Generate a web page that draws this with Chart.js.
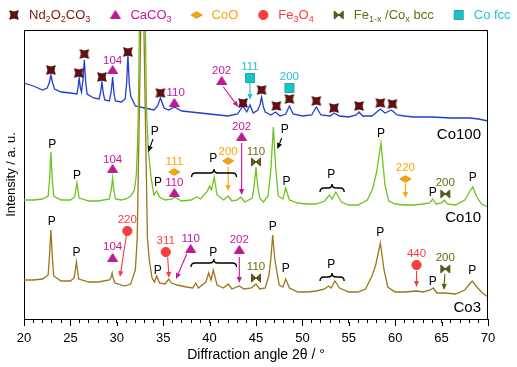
<!DOCTYPE html>
<html><head><meta charset="utf-8">
<script src="https://cdn.jsdelivr.net/npm/chart.js@4.4.1/dist/chart.umd.min.js"></script>
<style>html,body{margin:0;padding:0;background:#fff}</style>
</head><body>
<canvas id="c" width="517" height="367"></canvas>
<script>
// ---- data (2θ in degrees, intensity in arbitrary units as stacked in the figure) ----
const co100 = [[20,236],[21,233],[22,229],[22.5,231],[22.72,236],[22.9,244],[23.08,236],[23.3,230],[24,227],[25,226],[25.7,225],[25.83,232],[25.95,241],[26.08,231],[26.2,227],[26.36,240],[26.5,259],[26.64,238],[26.8,225],[27.5,221],[28.1,220],[28.28,228],[28.4,237],[28.54,226],[28.7,219],[29.2,218],[29.41,228],[29.55,242],[29.69,226],[29.85,218],[30.5,217],[30.9,220],[31.06,236],[31.2,264],[31.34,235],[31.5,223],[32,213],[33,211],[34,209],[34.4,213],[34.7,221],[35.1,211],[35.6,209],[36.2,212],[37,208],[38,207],[39,206],[40,205],[41,204],[42,203],[43,205],[43.6,213],[44,207],[44.35,214],[44.7,206],[45.2,209],[45.45,215],[45.6,222],[45.8,212],[46,207],[46.6,204],[47.1,207],[47.6,203],[48.2,205],[48.6,213],[49,205],[50,203],[51,204],[51.5,212],[52,204],[53,203],[53.4,206],[54,203],[55,202],[55.8,204],[56.1,207],[56.5,203],[57.5,203],[58.4,210],[58.9,206],[59.6,209],[60.2,204],[61,203],[62,202],[64,202],[66,201],[68,201],[69,200],[70,198]];
const co10 = [[20,119],[21,119],[22,120],[22.6,123],[22.76,140],[22.9,167],[23.04,140],[23.2,123],[24,119],[25,119],[25.45,122],[25.58,129],[25.7,136],[25.82,128],[25.95,121],[27,118],[28,118],[29.2,120],[29.42,130],[29.55,141],[29.68,129],[29.85,120],[30.5,119],[31,120],[31.5,123],[31.9,129],[32.1,144],[32.25,179],[32.32,209],[32.43,289],[32.76,515],[33.08,289],[33.2,209],[33.4,168],[33.7,141],[34,124],[34.3,128],[34.6,122],[35.2,119],[36,120],[36.2,122],[37,118],[38,119],[38.6,122],[39,120],[39.7,127],[40,133],[40.2,129],[40.5,142],[40.8,124],[41.5,119],[42,123],[42.4,118],[43,119],[43.35,122],[43.8,117],[44.6,121],[44.83,135],[45,152],[45.17,134],[45.4,121],[45.8,117],[46.3,123],[46.6,149],[46.87,192],[47.1,154],[47.4,123],[47.9,120],[48.2,131],[48.6,119],[49.5,116],[50.5,115],[51.5,115],[52.4,118],[52.9,124],[53.2,120],[53.6,127],[54.2,117],[55,114],[56,114],[57,119],[57.6,131],[58,147],[58.47,176],[58.9,134],[59.3,118],[60,115],[61,114],[62,114],[63,115],[63.7,116],[64.05,120],[64.4,115],[65,116],[65.3,119],[65.6,115],[66.5,114],[67.5,119],[68,127],[68.35,132],[68.8,122],[69.3,115],[70,112]];
const co3 = [[20,39],[21,39],[22,40],[22.6,44],[22.76,65],[22.9,89],[23.04,64],[23.2,43],[24,38],[25,38],[25.4,41],[25.53,49],[25.65,57],[25.77,48],[25.9,40],[27,37],[28,37],[29.2,39],[29.4,42],[29.5,46],[29.6,41],[29.8,36],[30.2,35],[30.8,33],[31.5,35],[32,49],[32.2,81],[32.75,385],[33.3,81],[33.5,59],[33.8,41],[34.05,37],[34.3,43],[34.6,36],[35.2,35],[35.6,40],[35.9,36],[36.5,34],[37.5,32],[38.2,31],[38.5,36],[38.8,31],[39.6,37],[39.9,46],[40.15,39],[40.4,49],[40.8,34],[41.5,31],[42,35],[42.4,30],[43.2,33],[43.7,30],[44.5,31],[45,35],[45.4,30],[46,31],[46.4,44],[46.6,60],[46.8,84],[47.0,62],[47.2,50],[47.5,34],[47.9,32],[48.2,40],[48.6,31],[49.5,27],[50.5,27],[51.5,28],[52.4,30],[52.8,33],[53.1,31],[53.5,38],[54,31],[55,27],[56,27],[56.8,30],[57.5,43],[57.9,54],[58.4,76],[58.8,49],[59.2,32],[60,27],[61,27],[62.3,28],[63,27],[63.8,29],[64.1,31],[64.5,26],[65.3,26],[66.5,25],[67.5,29],[68,35],[68.3,38],[68.8,32],[69.4,26],[70,22]];

// phase markers [2θ, intensity]
const ndMarks = [[22.9,249],[25.9,246],[26.5,265],[28.4,242],[31.2,267],[34.7,226],[43.6,216],[45.6,229],[47.2,213],[48.6,220],[51.5,218],[53.4,211],[56.1,213],[58.4,216],[59.7,215]];
const cacoMarks = [[29.55,249],[36.2,216],[41.3,238],[29.55,150],[36.2,126],[43.45,182],[29.55,61],[37.96,70],[43.2,69]];
const cooMarks = [[36.2,147],[42.0,158],[61.1,140]];
const fe3o4Marks = [[31.13,88],[35.27,67],[62.3,54]];
const bccMarks = [[45.0,157],[65.4,125],[45.0,41],[65.4,50]];
const cofccMarks = [[44.35,241],[48.6,231]];

// peak labels [text, 2θ, intensity, phase]
const peakLabels = [
 ["104",29.55,258,"caco"],["110",36.35,226,"caco"],["202",41.3,248,"caco"],["111",44.35,252,"cofcc"],["200",48.6,242,"cofcc"],
 ["P",23.05,174,"p"],["P",25.7,143,"p"],["104",29.55,159,"caco"],["P",34.1,187,"p"],["P",34.45,136,"p"],["111",36.2,157,"coo"],["110",36.2,136,"caco"],["P",40.4,160,"p"],["200",42.0,167,"coo"],["202",43.45,192,"caco"],["110",45.0,167,"bcc"],["P",48.1,189,"p"],["P",48.3,137,"p"],["P",53.1,144,"p"],["P",58.47,185,"p"],["220",61.1,151,"coo"],["P",64.05,126,"p"],["200",65.4,136,"bcc"],["P",68.35,141,"p"],
 ["P",23.0,97,"p"],["P",25.65,66,"p"],["104",29.55,72,"caco"],["220",31.13,99,"fe3o4"],["P",34.4,48,"p"],["311",35.27,78,"fe3o4"],["110",37.96,80,"caco"],["P",40.4,66,"p"],["202",43.2,79,"caco"],["110",45.0,52,"bcc"],["P",46.8,92,"p"],["P",48.2,50,"p"],["P",53.1,54,"p"],["P",58.4,86,"p"],["440",62.3,65,"fe3o4"],["P",64.05,37,"p"],["200",65.4,61,"bcc"],["P",68.3,48,"p"]
];
// arrows [from 2θ, from I, to 2θ, to I, phase]
const arrows = [
 [41.48,232,43.09,212,"caco"],[44.35,236,44.35,219,"cofcc"],
 [33.9,180,33.4,167,"p"],[47.77,181,47.3,170,"p"],[42.0,152,42.0,128,"coo"],[43.45,176,43.45,124,"caco"],[61.1,136,61.1,121,"coo"],
 [31.07,86,30.34,42,"fe3o4"],[35.48,62,35.63,41,"fe3o4"],[37.53,65,36.38,40,"caco"],[43.2,62,43.2,36,"caco"],[62.3,48,62.3,32,"fe3o4"],[65.35,45,65.25,29,"bcc"]
];
// braces [from 2θ, to 2θ, intensity]
const braces = [[38.06,42.9,146],[51.9,54.5,131],[38.0,42.9,56],[51.9,54.5,42]];
// sample names [name, intensity]
const sampleNames = [["Co100",184],["Co10",101],["Co3",11]];
// legend [name with {subscripts}, phase]
const legendItems = [["Nd{2}O{2}CO{3}","nd"],["CaCO{3}","caco"],["CoO","coo"],["Fe{3}O{4}","fe3o4"],["Fe{1-x} /Co{x} bcc","bcc"],["Co fcc","cofcc"]];

// ---- styles ----
const FONT = "'Liberation Sans', Arial, sans-serif";
const markColor = {nd:'#6b0d0d', caco:'#c4159c', coo:'#ffa200', fe3o4:'#ff3c3c', bcc:'#5c5c0c', cofcc:'#18c4c8', p:'#000'};
const textColor = {nd:'#7b1414', caco:'#c8179f', coo:'#ffa500', fe3o4:'#ff3c3c', bcc:'#6a6a14', cofcc:'#1cc6d2', p:'#000'};

function makeMarker(kind){
  const cv = document.createElement('canvas'); cv.width = 14; cv.height = 14;
  const g = cv.getContext('2d'); const c = 7;
  g.lineWidth = 0.8; g.beginPath();
  if (kind==='nd'){ const r=4.3, n=3.0;
    g.moveTo(c-r,c-r); g.lineTo(c,c-n); g.lineTo(c+r,c-r); g.lineTo(c+n,c); g.lineTo(c+r,c+r); g.lineTo(c,c+n); g.lineTo(c-r,c+r); g.lineTo(c-n,c); g.closePath();
    g.fillStyle=markColor.nd; g.strokeStyle='#3a0000';
  } else if (kind==='caco'){ g.moveTo(c,c-4.5); g.lineTo(c+5,c+3.5); g.lineTo(c-5,c+3.5); g.closePath(); g.fillStyle=markColor.caco; g.strokeStyle='#a0107f'; }
  else if (kind==='coo'){ g.moveTo(c-5.5,c); g.lineTo(c,c-3.3); g.lineTo(c+5.5,c); g.lineTo(c,c+3.3); g.closePath(); g.fillStyle=markColor.coo; g.strokeStyle='#d08400'; }
  else if (kind==='fe3o4'){ g.arc(c,c,4.6,0,Math.PI*2); g.fillStyle=markColor.fe3o4; g.strokeStyle='#d22a2a'; }
  else if (kind==='bcc'){ g.moveTo(c-4.5,c-4); g.lineTo(c,c); g.lineTo(c-4.5,c+4); g.closePath(); g.moveTo(c+4.5,c-4); g.lineTo(c,c); g.lineTo(c+4.5,c+4); g.closePath(); g.fillStyle=markColor.bcc; g.strokeStyle='#3e3e06'; }
  else if (kind==='cofcc'){ g.rect(c-4.5,c-4.5,9,9); g.fillStyle=markColor.cofcc; g.strokeStyle='#0c9096'; }
  g.fill(); g.stroke();
  return cv;
}
const markers = {}; ['nd','caco','coo','fe3o4','bcc','cofcc'].forEach(k => markers[k] = makeMarker(k));

const toXY = arr => arr.map(p => ({x:p[0], y:p[1]}));
function traceDs(label, arr, color, order){
  return {label, data: toXY(arr), showLine:true, borderColor:color, borderWidth:1.3, pointRadius:0, tension:0, order};
}
function markDs(label, arr, key){
  return {label, data: toXY(arr), showLine:false, pointStyle: markers[key], pointRadius:5, order:0};
}

function drawRich(ctx, str, x, y, size, color){
  const parts = str.split(/(\{[^}]*\})/).filter(s => s.length);
  ctx.fillStyle = color; ctx.textBaseline = 'middle'; ctx.textAlign = 'left';
  for (const p of parts){
    if (p[0]==='{'){ const t=p.slice(1,-1); ctx.font = (size*0.7)+'px '+FONT; ctx.fillText(t, x, y+4); x += ctx.measureText(t).width; }
    else { ctx.font = size+'px '+FONT; ctx.fillText(p, x, y); x += ctx.measureText(p).width; }
  }
  return x;
}

const annot = {
  id:'annot',
  afterDatasetsDraw(chart){
    const {ctx, chartArea:a, scales:{x, y}} = chart;
    ctx.save();
    // frame top & right
    ctx.strokeStyle='#000'; ctx.lineWidth=1;
    ctx.beginPath(); ctx.moveTo(a.left, a.top+0.5); ctx.lineTo(a.right-0.5, a.top+0.5); ctx.lineTo(a.right-0.5, a.bottom); ctx.stroke();
    // longer major ticks
    ctx.beginPath();
    for (let v = 20; v <= 70; v += 5){ const px = Math.round(x.getPixelForValue(v))+0.5; ctx.moveTo(px, a.bottom+3); ctx.lineTo(px, a.bottom+7); }
    ctx.stroke();
    // arrows
    for (const [x1,y1,x2,y2,k] of arrows){
      const X1=x.getPixelForValue(x1), Y1=y.getPixelForValue(y1), X2=x.getPixelForValue(x2), Y2=y.getPixelForValue(y2);
      const ang = Math.atan2(Y2-Y1, X2-X1), L=6, W=2.6;
      const bx = X2 - L*Math.cos(ang), by = Y2 - L*Math.sin(ang);
      ctx.strokeStyle = markColor[k]; ctx.fillStyle = markColor[k]; ctx.lineWidth = 1.1;
      ctx.beginPath(); ctx.moveTo(X1,Y1); ctx.lineTo(bx,by); ctx.stroke();
      ctx.beginPath(); ctx.moveTo(X2,Y2); ctx.lineTo(bx - W*Math.sin(ang), by + W*Math.cos(ang)); ctx.lineTo(bx + W*Math.sin(ang), by - W*Math.cos(ang)); ctx.closePath(); ctx.fill();
    }
    // braces
    ctx.strokeStyle='#000'; ctx.lineWidth=1.4;
    for (const [x1,x2,yv] of braces){
      const L=x.getPixelForValue(x1), R=x.getPixelForValue(x2), Y=y.getPixelForValue(yv), M=(L+R)/2, h=4;
      ctx.beginPath();
      ctx.moveTo(L, Y+h); ctx.quadraticCurveTo(L, Y, L+h, Y);
      ctx.lineTo(M-h, Y); ctx.quadraticCurveTo(M, Y, M, Y-h);
      ctx.quadraticCurveTo(M, Y, M+h, Y);
      ctx.lineTo(R-h, Y); ctx.quadraticCurveTo(R, Y, R, Y+h);
      ctx.stroke();
    }
    // peak labels
    ctx.textAlign='center'; ctx.textBaseline='middle';
    for (const [t,xv,yv,k] of peakLabels){
      ctx.font = (t==='P' ? '12px ' : '11.5px ') + FONT;
      ctx.fillStyle = textColor[k];
      ctx.fillText(t, x.getPixelForValue(xv), y.getPixelForValue(yv));
    }
    // sample names
    ctx.font = '15px '+FONT; ctx.fillStyle='#000'; ctx.textAlign='right';
    for (const [n,yv] of sampleNames){ ctx.fillText(n, a.right-7, y.getPixelForValue(yv)); }
    ctx.restore();
  },
  afterDraw(chart){
    const ctx = chart.ctx; ctx.save();
    let cx = 14; const cy = 15;
    for (const [name,k] of legendItems){
      const m = markers[k]; ctx.drawImage(m, cx - m.width/2, cy - m.height/2);
      const end = drawRich(ctx, name, cx + 15, cy, 13, textColor[k]);
      cx = end + 25;
    }
    ctx.restore();
  }
};

Chart.defaults.font.family = FONT;
new Chart(document.getElementById('c'), {
  type:'scatter',
  data:{ datasets:[
    markDs('Nd2O2CO3', ndMarks, 'nd'),
    markDs('CaCO3', cacoMarks, 'caco'),
    markDs('CoO', cooMarks, 'coo'),
    markDs('Fe3O4', fe3o4Marks, 'fe3o4'),
    markDs('Fe1-x/Cox bcc', bccMarks, 'bcc'),
    markDs('Co fcc', cofccMarks, 'cofcc'),
    traceDs('Co10', co10, '#6cc41c', 1),
    traceDs('Co3', co3, '#a0741a', 2),
    traceDs('Co100', co100, '#1f3fd1', 3)
  ]},
  options:{
    responsive:false, animation:false, devicePixelRatio:1,
    layout:{padding:{top:30, right:29, left:0, bottom:0}},
    plugins:{legend:{display:false}, tooltip:{enabled:false}},
    scales:{
      x:{type:'linear', min:20, max:70,
        afterFit(s){ s.height = 48; },
        ticks:{stepSize:1, autoSkip:false, maxRotation:0, color:'#000', font:{size:13}, padding:8,
          callback:v => (v % 5 === 0 ? String(v) : '')},
        grid:{drawOnChartArea:false, drawTicks:true, tickLength:4, tickColor:'#000', lineWidth:1},
        border:{display:true, color:'#000', width:1},
        title:{display:true, text:'Diffraction angle 2θ / °', color:'#000', font:{size:14}, padding:{top:2, bottom:3}}
      },
      y:{min:0, max:289,
        afterFit(s){ s.width = 24; },
        ticks:{display:false}, grid:{display:false},
        border:{display:true, color:'#000', width:1},
        title:{display:true, text:'Intensity / a. u.', color:'#000', font:{size:13}}
      }
    }
  },
  plugins:[annot]
});
</script>
</body></html>
